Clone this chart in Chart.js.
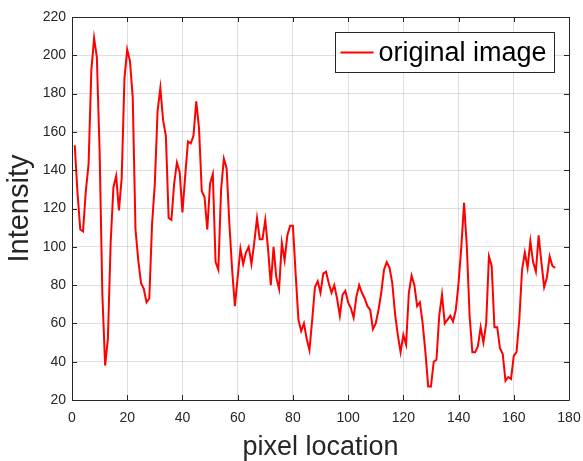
<!DOCTYPE html>
<html>
<head>
<meta charset="utf-8">
<script src="https://cdn.jsdelivr.net/npm/chart.js@4/dist/chart.umd.min.js"></script>
<style>
  html, body { margin: 0; padding: 0; background: #fff; }
  #wrap { width: 583px; height: 461px; }
</style>
</head>
<body>
<div id="wrap"><canvas id="chart"></canvas></div>
<script>
// intensity profile along the row, pixel 1 .. 175
const firstPixel = 1;
const intensity = [
    153, 128, 109, 108, 129, 143, 192, 209, 199, 150,
    75, 38, 52, 102, 131, 137, 119, 136, 188, 203,
    197, 178, 109, 93, 81, 78, 71, 73, 112, 133,
    171, 183, 166, 158, 115, 114, 133, 144, 139, 118,
    137, 155, 154, 158, 176, 162, 129, 126, 109, 133,
    138, 92, 88, 130, 146, 141, 112, 88, 69, 84,
    99, 91, 97, 100, 91, 102, 115, 104, 104, 114,
    99, 80, 100, 84, 78, 102, 93, 106, 111, 111,
    86, 62, 56, 60, 52, 46, 62, 79, 82, 76,
    86, 87, 81, 76, 80, 73, 64, 75, 77, 71,
    68, 63, 74, 80, 76, 73, 69, 67, 57, 60,
    67, 76, 88, 92, 89, 81, 65, 54, 45, 54,
    49, 76, 85, 80, 69, 71, 60, 45, 27, 27,
    40, 41, 64, 75, 60, 62, 64, 61, 67, 81,
    100, 123, 100, 64, 45, 45, 48, 58, 50, 60,
    95, 90, 58, 58, 47, 44, 30, 32, 31, 43,
    45, 62, 88, 97, 89, 103, 92, 87, 106, 92,
    79, 84, 95, 90, 89
];
const xTicks = [0, 20, 40, 60, 80, 100, 120, 140, 160, 180];
const yTicks = [20, 40, 60, 80, 100, 120, 140, 160, 180, 200, 220];
const seriesName = 'original image';

const axisColor = '#262626';
const gridColor = 'rgba(38,38,38,0.15)';
const fontFamily = '"Liberation Sans", Arial, Helvetica, sans-serif';

const points = intensity.map((v, i) => ({ x: firstPixel + i, y: v }));

// MATLAB style box with inward ticks, plus legend inside the axes
const boxPlugin = {
    id: 'matlabBox',
    afterDraw(chart) {
        const ctx = chart.ctx;
        const a = chart.chartArea;
        const xs = chart.scales.x;
        const ys = chart.scales.y;
        const tick = 5;
        ctx.save();
        ctx.strokeStyle = axisColor;
        ctx.lineWidth = 1;
        ctx.beginPath();
        ctx.rect(Math.round(a.left) + 0.5, Math.round(a.top) + 0.5,
                 Math.round(a.right - a.left), Math.round(a.bottom - a.top));
        xTicks.forEach(t => {
            const px = Math.round(xs.getPixelForValue(t)) + 0.5;
            ctx.moveTo(px, a.bottom); ctx.lineTo(px, a.bottom - tick);
            ctx.moveTo(px, a.top); ctx.lineTo(px, a.top + tick);
        });
        yTicks.forEach(t => {
            const py = Math.round(ys.getPixelForValue(t)) + 0.5;
            ctx.moveTo(a.left, py); ctx.lineTo(a.left + tick, py);
            ctx.moveTo(a.right, py); ctx.lineTo(a.right - tick, py);
        });
        ctx.stroke();

        // legend
        const lw = 219, lh = 40;
        const lx = Math.round(a.right - 15 - lw) + 0.5;
        const ly = Math.round(a.top + 15) + 0.5;
        ctx.fillStyle = '#fff';
        ctx.fillRect(lx, ly, lw, lh);
        ctx.strokeStyle = axisColor;
        ctx.strokeRect(lx, ly, lw, lh);
        const my = ly + lh / 2;
        ctx.strokeStyle = '#ff0000';
        ctx.lineWidth = 2;
        ctx.beginPath();
        ctx.moveTo(lx + 5, my); ctx.lineTo(lx + 38, my);
        ctx.stroke();
        ctx.fillStyle = '#000';
        ctx.font = '27px ' + fontFamily;
        ctx.textBaseline = 'middle';
        ctx.textAlign = 'left';
        ctx.fillText(seriesName, lx + 43, my + 1);
        ctx.restore();
    }
};

new Chart(document.getElementById('chart'), {
    type: 'line',
    data: {
        datasets: [{
            label: seriesName,
            data: points,
            borderColor: '#ff0000',
            borderWidth: 2,
            pointRadius: 0,
            tension: 0,
            fill: false
        }]
    },
    options: {
        responsive: true,
        maintainAspectRatio: false,
        animation: false,
        events: [],
        layout: { padding: { top: 17, right: 14, left: 0, bottom: 0 } },
        plugins: {
            legend: { display: false },
            tooltip: { enabled: false }
        },
        scales: {
            x: {
                type: 'linear',
                min: 0,
                max: 180,
                afterBuildTicks: s => { s.ticks = xTicks.map(v => ({ value: v })); },
                afterFit: s => { s.height = 61; s.paddingLeft = 0; s.paddingRight = 0; },
                grid: { color: gridColor, drawTicks: false },
                border: { display: false },
                ticks: {
                    color: axisColor,
                    padding: 10,
                    maxRotation: 0,
                    font: { family: fontFamily, size: 14 }
                },
                title: {
                    display: true,
                    text: 'pixel location',
                    color: axisColor,
                    padding: 0,
                    font: { family: fontFamily, size: 27, lineHeight: 1 }
                }
            },
            y: {
                min: 20,
                max: 220,
                afterBuildTicks: s => { s.ticks = yTicks.map(v => ({ value: v })); },
                afterFit: s => { s.width = 72; },
                grid: { color: gridColor, drawTicks: false },
                border: { display: false },
                ticks: {
                    color: axisColor,
                    padding: 6,
                    font: { family: fontFamily, size: 14 }
                },
                title: {
                    display: true,
                    text: 'Intensity',
                    color: axisColor,
                    padding: { top: 5, bottom: 0 },
                    font: { family: fontFamily, size: 29, lineHeight: 1 }
                }
            }
        }
    },
    plugins: [boxPlugin]
});
</script>
</body>
</html>
